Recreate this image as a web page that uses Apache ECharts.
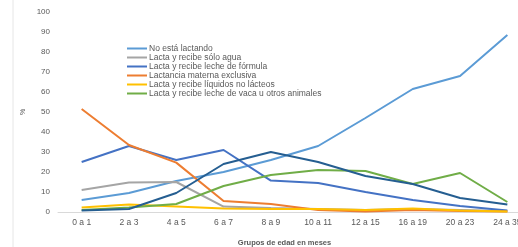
<!DOCTYPE html>
<html>
<head>
<meta charset="utf-8">
<script src="https://cdn.jsdelivr.net/npm/echarts@6/dist/echarts.min.js"></script>
<style>
  html, body { margin: 0; padding: 0; background: #fff; }
  #chart { width: 518px; height: 247px; }
</style>
</head>
<body>
<div id="chart"></div>
<script>
const categories = ['0 a 1', '2 a 3', '4 a 5', '6 a 7', '8 a 9', '10 a 11', '12 a 15', '16 a 19', '20 a 23', '24 a 35'];
const yTicks = [0, 10, 20, 30, 40, 50, 60, 70, 80, 90, 100];

const noLactando = [6, 9.5, 15.5, 20, 26, 33, 47, 61.5, 68, 88.5];
const soloAgua = [11, 14.7, 15, 2.7, 2, 1.5, 1, 1.5, 1, 0.5];
const lecheFormula = [25, 33, 26, 31, 15.7, 14.5, 10, 6, 3, 0.8];
const exclusiva = [51.5, 33.5, 24.7, 5.5, 4, 1, 0.2, 1, 0.5, 0.2];
const liquidosNoLacteos = [2.3, 3.7, 2.7, 1.7, 1.5, 1.5, 1, 1.7, 0.8, 0.3];
const lecheVaca = [1, 2.3, 4, 13, 18.5, 21, 20.5, 14, 19.5, 5];
const otraSerie = [0.8, 1.5, 9.5, 24, 30, 25, 18, 14, 7, 3.7];

const legendTop = ['No está lactando', 'Lacta y recibe sólo agua', 'Lacta y recibe leche de fórmula'];
const legendBottom = ['Lactancia materna exclusiva', 'Lacta y recibe líquidos no lácteos', 'Lacta y recibe leche de vaca u otros animales'];

const chart = echarts.init(document.getElementById('chart'), null, { renderer: 'canvas' });

const line = (name, data, color) => ({
  name,
  type: 'line',
  data,
  symbol: 'none',
  lineStyle: { width: 2, color },
  itemStyle: { color },
});

const legendStyle = {
  orient: 'vertical',
  left: 127,
  itemWidth: 20,
  itemHeight: 2,
  itemGap: 0,
  icon: 'rect',
  textStyle: { fontSize: 8.5, color: '#595959', fontFamily: 'Liberation Sans', padding: [0, 0, 0, -3] },
  padding: 0,
};

chart.setOption({
  animation: false,
  textStyle: { fontFamily: 'Liberation Sans' },
  graphic: [{
    type: 'line',
    shape: { x1: 13, y1: 0, x2: 13, y2: 247 },
    style: { stroke: '#e6e6e6', lineWidth: 1 },
  }],
  legend: [
    Object.assign({ top: 44, data: legendTop }, legendStyle),
    Object.assign({ top: 71, data: legendBottom }, legendStyle),
  ],
  grid: { left: 58, right: -13, top: 12, bottom: 35, outerBoundsMode: 'none', containLabel: false },
  xAxis: {
    type: 'category',
    data: categories,
    boundaryGap: true,
    axisLine: { lineStyle: { color: '#d9d9d9' } },
    axisTick: { show: false },
    axisLabel: { fontSize: 8.5, color: '#595959', margin: 6 },
    name: 'Grupos de edad en meses',
    nameLocation: 'middle',
    nameGap: 27,
    nameTextStyle: { fontSize: 7.5, fontWeight: 'bold', color: '#595959', padding: [0, 20, 0, 0] },
  },
  yAxis: {
    type: 'value',
    min: yTicks[0],
    max: yTicks[yTicks.length - 1],
    interval: 10,
    axisLine: { show: false },
    axisTick: { show: false },
    splitLine: { show: false },
    axisLabel: { fontSize: 8, color: '#595959', margin: 8 },
    name: '%',
    nameLocation: 'middle',
    nameGap: 31,
    nameRotate: 90,
    nameMoveOverlap: false,
    nameTextStyle: { fontSize: 7, color: '#595959' },
  },
  series: [
    line('No está lactando', noLactando, '#5B9BD5'),
    line('Lacta y recibe sólo agua', soloAgua, '#A5A5A5'),
    line('Lacta y recibe leche de fórmula', lecheFormula, '#4472C4'),
    line('Lactancia materna exclusiva', exclusiva, '#ED7D31'),
    line('Lacta y recibe líquidos no lácteos', liquidosNoLacteos, '#FFC000'),
    line('Lacta y recibe leche de vaca u otros animales', lecheVaca, '#70AD47'),
    line('Otro', otraSerie, '#255E91'),
  ],
});
</script>
</body>
</html>
